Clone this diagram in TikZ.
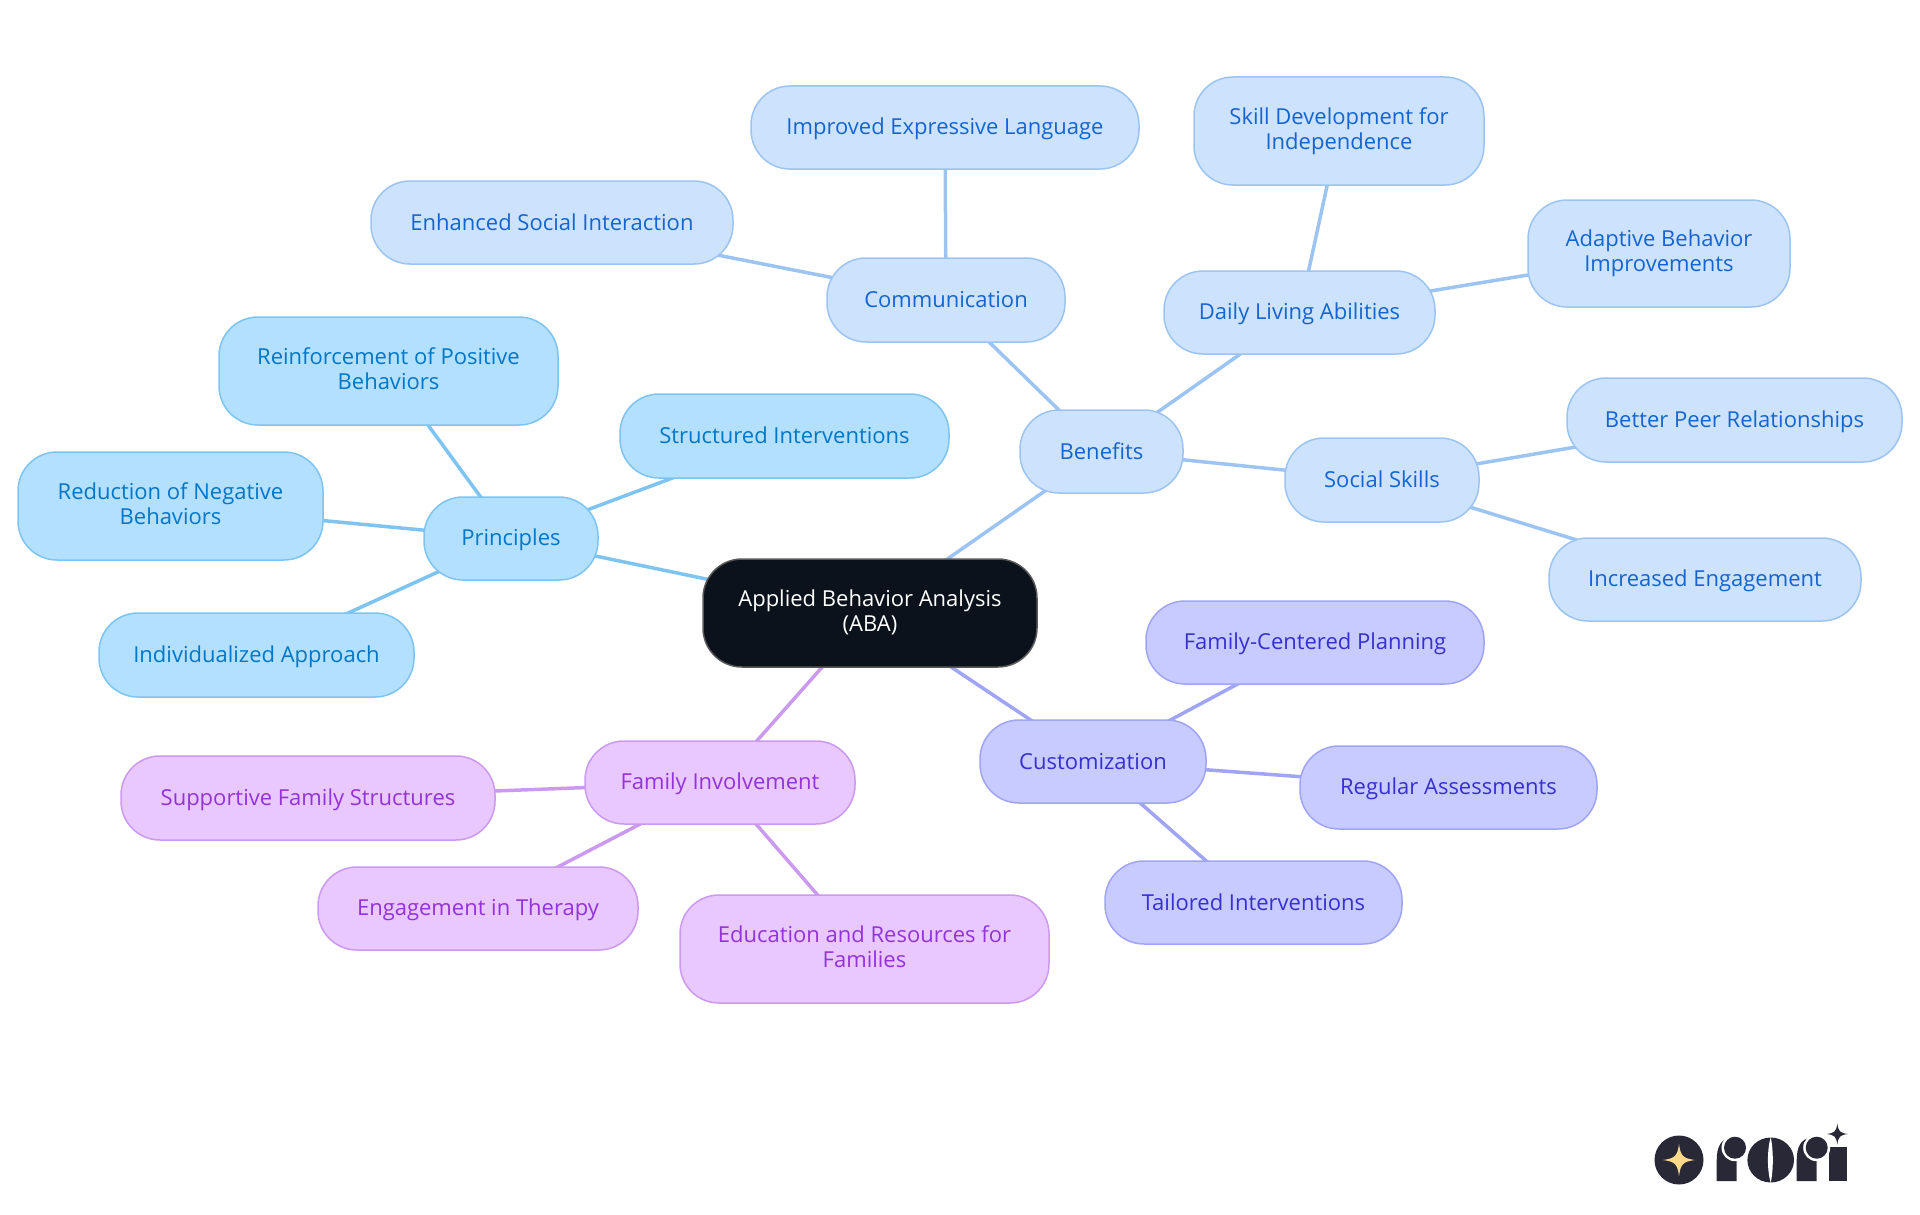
\documentclass[tikz,border=0pt]{standalone}
\usepackage{fontspec}
\setmainfont{Open Sans}
\usetikzlibrary{backgrounds}
\definecolor{pfill}{HTML}{B3E0FF}\definecolor{pline}{HTML}{7DC4F2}\definecolor{ptext}{HTML}{0277C8}
\definecolor{bfill}{HTML}{CCE2FD}\definecolor{bline}{HTML}{9CC4F2}\definecolor{btext}{HTML}{1565D0}
\definecolor{cfill}{HTML}{C8CBFF}\definecolor{cline}{HTML}{9FA4F5}\definecolor{ctext}{HTML}{3730D0}
\definecolor{ffill}{HTML}{E8C8FF}\definecolor{fline}{HTML}{CC99F0}\definecolor{ftext}{HTML}{9333D8}
\definecolor{rootfill}{HTML}{0B121B}\definecolor{logoink}{HTML}{292837}\definecolor{logostar}{HTML}{FCD98A}
\newcommand{\lnstrut}{\rule{0pt}{20pt}\rule[-5pt]{0pt}{5pt}}
\newcommand{\lndepth}{\rule[-5pt]{0pt}{5pt}}
\newcommand{\sparkle}[4]{\fill[#4] (#1,#2-#3) .. controls (#1+.1*#3,#2-.25*#3) and (#1+.25*#3,#2-.1*#3) .. (#1+#3,#2) .. controls (#1+.25*#3,#2+.1*#3) and (#1+.1*#3,#2+.25*#3) .. (#1,#2+#3) .. controls (#1-.1*#3,#2+.25*#3) and (#1-.25*#3,#2+.1*#3) .. (#1-#3,#2) .. controls (#1-.25*#3,#2-.1*#3) and (#1-.1*#3,#2-.25*#3) .. (#1,#2-#3) -- cycle;}
\tikzset{
  box/.style 2 args={draw,rounded corners=39pt,line width=1.5pt,inner sep=0pt,align=center,
    minimum width=#1 pt,minimum height=#2 pt,
    font=\fontsize{22}{24.5}\selectfont,execute at begin node=\lnstrut},
  pbox/.style={fill=pfill,draw=pline,text=ptext},
  bbox/.style={fill=bfill,draw=bline,text=btext},
  cbox/.style={fill=cfill,draw=cline,text=ctext},
  fbox/.style={fill=ffill,draw=fline,text=ftext},
  rootbox/.style={fill=rootfill,draw=gray!70!black,text=white},
  pedge/.style={draw=pline,line width=3.5pt},
  bedge/.style={draw=bline,line width=3.5pt},
  cedge/.style={draw=cline,line width=3.5pt},
  fedge/.style={draw=fline,line width=3.5pt},
}
\begin{document}
\begin{tikzpicture}[x=1pt,y=-1pt]
\useasboundingbox (0,0) rectangle (1920,1215);
\node[box={334}{108},rootbox] (root) at (870,613) {Applied Behavior Analysis\\\lndepth(ABA)};
\node[box={174}{83},pbox] (princ) at (511,538.5) {Principles};
\node[box={339}{108},pbox] (reinf) at (388.5,371) {Reinforcement of Positive\\\lndepth Behaviors};
\node[box={329}{84},pbox] (struct) at (784.5,436) {Structured Interventions};
\node[box={305}{108},pbox] (reduc) at (170.5,506) {Reduction of Negative\\\lndepth Behaviors};
\node[box={315}{84},pbox] (indiv) at (256.5,655) {Individualized Approach};
\node[box={163}{83},bbox] (benef) at (1101.5,451.5) {Benefits};
\node[box={238}{84},bbox] (comm) at (946,300) {Communication};
\node[box={388}{83},bbox] (expr) at (945,127.5) {Improved Expressive Language};
\node[box={362}{83},bbox] (social) at (552,222.5) {Enhanced Social Interaction};
\node[box={271}{83},bbox] (daily) at (1299.5,312.5) {Daily Living Abilities};
\node[box={290}{108},bbox] (skill) at (1339,131) {Skill Development for\\\lndepth Independence};
\node[box={262}{107},bbox] (adapt) at (1659,253.5) {Adaptive Behavior\\\lndepth Improvements};
\node[box={194}{84},bbox] (skills) at (1382,480) {Social Skills};
\node[box={335}{84},bbox] (peer) at (1734.5,420) {Better Peer Relationships};
\node[box={312}{83},bbox] (engag) at (1705,579.5) {Increased Engagement};
\node[box={226}{83},cbox] (custom) at (1093,761.5) {Customization};
\node[box={338}{83},cbox] (fcp) at (1315,642.5) {Family-Centered Planning};
\node[box={297}{83},cbox] (regul) at (1448.5,787.5) {Regular Assessments};
\node[box={297}{83},cbox] (tailor) at (1253.5,902.5) {Tailored Interventions};
\node[box={270}{83},fbox] (family) at (720,782.5) {Family Involvement};
\node[box={374}{84},fbox] (supp) at (308,798) {Supportive Family Structures};
\node[box={320}{83},fbox] (ther) at (478,908.5) {Engagement in Therapy};
\node[box={369}{108},fbox] (educ) at (864.5,949) {Education and Resources for\\\lndepth Families};
\begin{scope}[on background layer]
\draw[pedge] (root.center) -- (princ.center);
\draw[pedge] (princ.center) -- (reinf.center);
\draw[pedge] (princ.center) -- (struct.center);
\draw[pedge] (princ.center) -- (reduc.center);
\draw[pedge] (princ.center) -- (indiv.center);
\draw[bedge] (root.center) -- (benef.center);
\draw[bedge] (benef.center) -- (comm.center);
\draw[bedge] (comm.center) -- (expr.center);
\draw[bedge] (comm.center) -- (social.center);
\draw[bedge] (benef.center) -- (daily.center);
\draw[bedge] (daily.center) -- (skill.center);
\draw[bedge] (daily.center) -- (adapt.center);
\draw[bedge] (benef.center) -- (skills.center);
\draw[bedge] (skills.center) -- (peer.center);
\draw[bedge] (skills.center) -- (engag.center);
\draw[cedge] (root.center) -- (custom.center);
\draw[cedge] (custom.center) -- (fcp.center);
\draw[cedge] (custom.center) -- (regul.center);
\draw[cedge] (custom.center) -- (tailor.center);
\draw[fedge] (root.center) -- (family.center);
\draw[fedge] (family.center) -- (supp.center);
\draw[fedge] (family.center) -- (ther.center);
\draw[fedge] (family.center) -- (educ.center);
\end{scope}
% logo
\fill[logoink] (1679,1160) circle (24.5);
\sparkle{1679}{1160}{16}{logostar}
\fill[logoink] (1716.7,1181) -- (1716.7,1160) .. controls (1716.7,1147) and (1721,1139) .. (1730,1138) -- (1736.7,1138) -- (1736.7,1181) -- cycle;
\fill[white] (1735,1147.7) circle (13.5);
\fill[logoink] (1735,1147.7) circle (11);
\fill[logoink] (1770.7,1160) ellipse (23.3 and 22.5);
\fill[white] (1770.7,1137) .. controls (1767,1150) and (1767,1170) .. (1770.7,1183) .. controls (1773.5,1170) and (1773.5,1150) .. (1770.7,1137) -- cycle;
\fill[logoink] (1829,1181) -- (1829,1146.7) -- (1846.7,1146.7) -- (1846.7,1181) -- cycle;
\fill[logoink] (1796.7,1181) -- (1796.7,1160) .. controls (1796.7,1147) and (1801,1139) .. (1810,1138) -- (1816.7,1138) -- (1816.7,1181) -- cycle;
\fill[white] (1816.7,1147.7) circle (13.5);
\fill[logoink] (1816.7,1147.7) circle (11);
\fill[white] (1837.3,1138) circle (8);
\sparkle{1837.3}{1134}{10.5}{logoink}
\end{tikzpicture}
\end{document}
